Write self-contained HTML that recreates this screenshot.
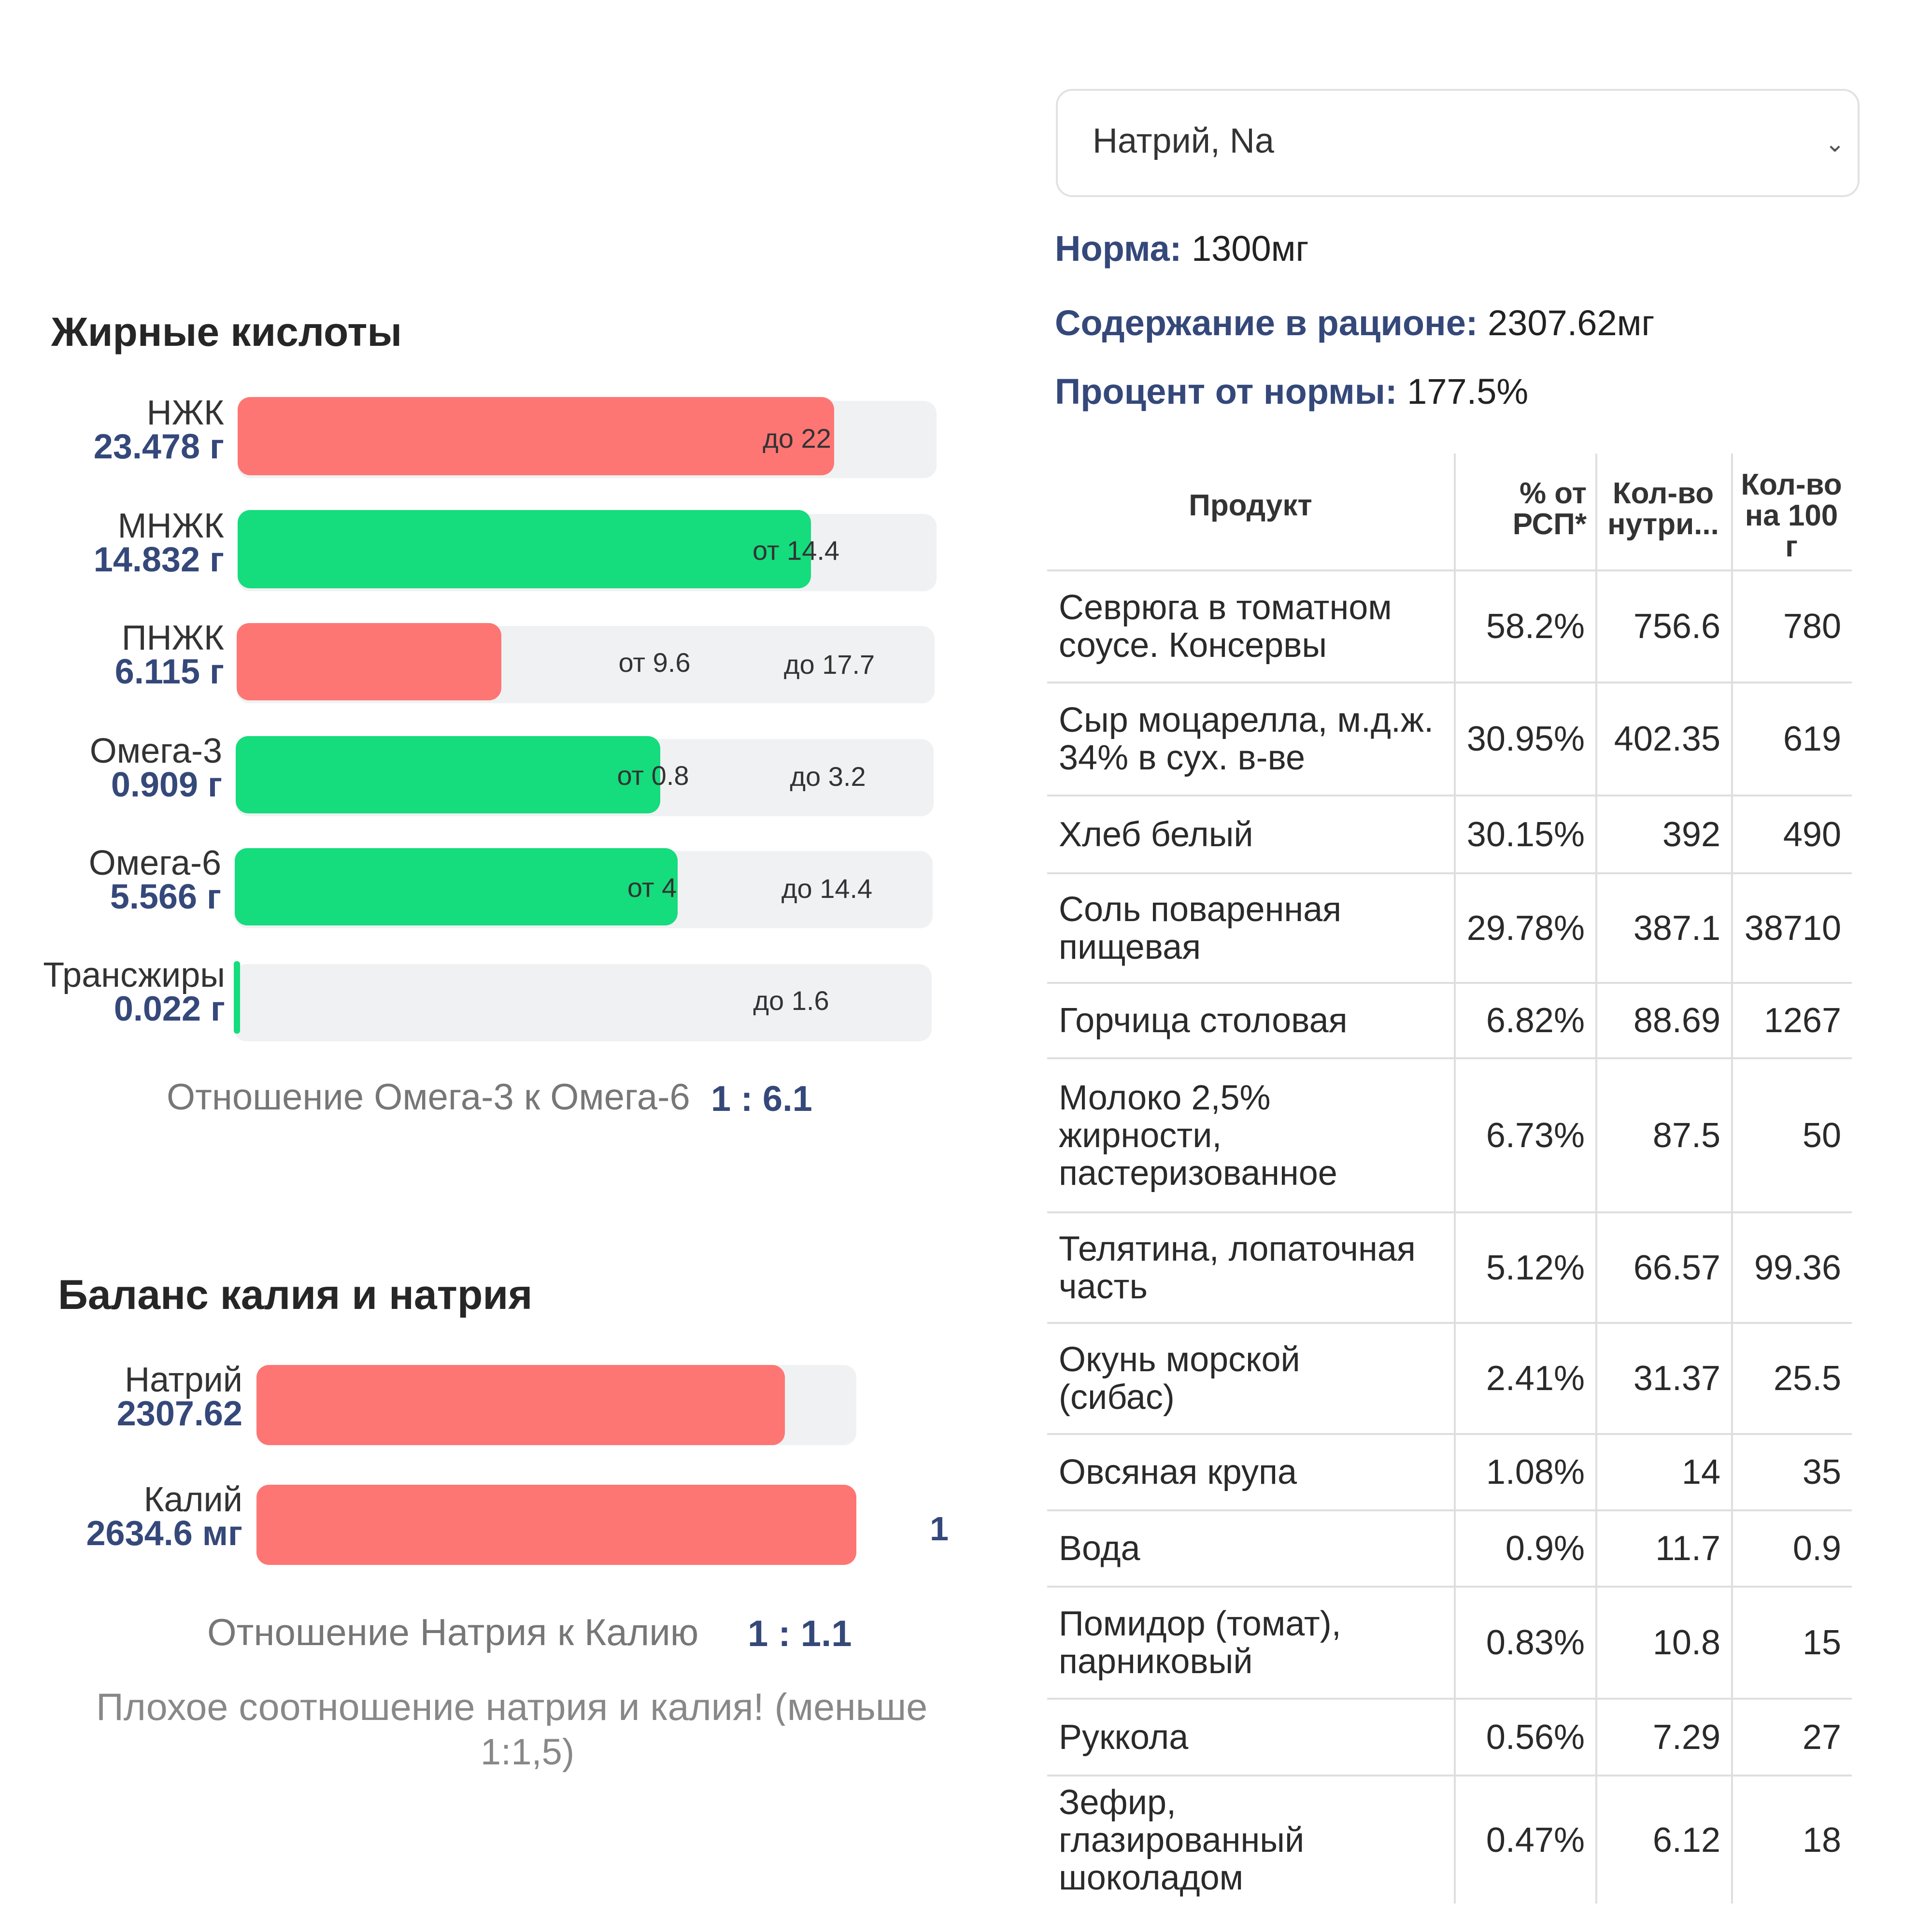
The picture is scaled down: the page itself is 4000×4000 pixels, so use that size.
<!DOCTYPE html>
<html><head><meta charset="utf-8">
<style>
*{margin:0;padding:0;box-sizing:border-box}
body{width:4000px;height:4000px;background:#fff;position:relative;overflow:hidden;font-family:"Liberation Sans","DejaVu Sans",sans-serif;color:#222}
.t{position:absolute;white-space:nowrap;line-height:1}
.lab{position:absolute;text-align:right;font-size:72px;line-height:70px;color:#333}
.lab b{display:block;color:#35487a;font-weight:bold}
.track{position:absolute;background:#f0f1f3;border-radius:26px}
.fill{position:absolute;border-radius:26px}
.red{background:#fd7674}.green{background:#15dc7c}
.mk{position:absolute;font-size:56px;color:#333;transform:translateX(-50%);white-space:nowrap;line-height:1}
.row{position:absolute;left:2168px;width:1666px;display:grid;grid-template-columns:842px 293px 281px 250px;border-top:4px solid #dedede}
.row div{display:flex;align-items:center;font-size:72px;line-height:78px;color:#2a2a2a}
.row .n{padding-left:24px}
.row .r{justify-content:flex-end;padding-right:22px;text-align:right}
.vl{position:absolute;top:939px;height:3002px;width:4px;background:#dedede}
</style></head><body>

<div class="t" style="left:106px;top:645px;font-size:84px;font-weight:bold;color:#262626">Жирные кислоты</div>

<div class="lab" style="left:0;width:464px;top:820px">НЖК<b>23.478 г</b></div>
<div class="track" style="left:492px;top:830px;width:1447px;height:160px"></div>
<div class="fill red" style="left:492px;top:822px;width:1235px;height:162px"></div>
<div class="mk" style="left:1650px;top:880px">до 22</div>

<div class="lab" style="left:0;width:464px;top:1054px">МНЖК<b>14.832 г</b></div>
<div class="track" style="left:492px;top:1064px;width:1447px;height:160px"></div>
<div class="fill green" style="left:492px;top:1056px;width:1187px;height:162px"></div>
<div class="mk" style="left:1648px;top:1112px">от 14.4</div>

<div class="lab" style="left:0;width:464px;top:1286px">ПНЖК<b>6.115 г</b></div>
<div class="track" style="left:490px;top:1296px;width:1445px;height:160px"></div>
<div class="fill red" style="left:490px;top:1290px;width:548px;height:160px"></div>
<div class="mk" style="left:1355px;top:1344px">от 9.6</div>
<div class="mk" style="left:1717px;top:1348px">до 17.7</div>

<div class="lab" style="left:0;width:460px;top:1520px">Омега-3<b>0.909 г</b></div>
<div class="track" style="left:488px;top:1530px;width:1445px;height:160px"></div>
<div class="fill green" style="left:488px;top:1524px;width:879px;height:160px"></div>
<div class="mk" style="left:1352px;top:1578px">от 0.8</div>
<div class="mk" style="left:1714px;top:1580px">до 3.2</div>

<div class="lab" style="left:0;width:458px;top:1752px">Омега-6<b>5.566 г</b></div>
<div class="track" style="left:486px;top:1762px;width:1445px;height:160px"></div>
<div class="fill green" style="left:486px;top:1756px;width:917px;height:160px"></div>
<div class="mk" style="left:1350px;top:1810px">от 4</div>
<div class="mk" style="left:1712px;top:1812px">до 14.4</div>

<div class="lab" style="left:0;width:466px;top:1984px">Трансжиры<b>0.022 г</b></div>
<div class="track" style="left:484px;top:1996px;width:1445px;height:160px"></div>
<div class="fill green" style="left:484px;top:1990px;width:13px;height:150px;border-radius:6px"></div>
<div class="mk" style="left:1638px;top:2044px">до 1.6</div>

<div class="t" style="left:345px;top:2234px;font-size:76px;color:#777">Отношение Омега-3 к Омега-6</div>
<div class="t" style="left:1472px;top:2238px;font-size:74px;font-weight:bold;color:#35487a">1 : 6.1</div>

<div class="t" style="left:120px;top:2638px;font-size:86px;font-weight:bold;color:#262626">Баланс калия и натрия</div>
<div class="lab" style="left:0;width:502px;top:2822px">Натрий<b>2307.62</b></div>
<div class="track" style="left:531px;top:2826px;width:1242px;height:166px"></div>
<div class="fill red" style="left:531px;top:2826px;width:1094px;height:166px"></div>
<div class="lab" style="left:0;width:502px;top:3070px">Калий<b>2634.6 мг</b></div>
<div class="fill red" style="left:531px;top:3074px;width:1242px;height:166px"></div>
<div class="t" style="left:1925px;top:3130px;font-size:70px;font-weight:bold;color:#35487a;width:47px;overflow:hidden">1</div>

<div class="t" style="left:429px;top:3340px;font-size:78px;color:#777">Отношение Натрия к Калию</div>
<div class="t" style="left:1548px;top:3345px;font-size:76px;font-weight:bold;color:#35487a">1 : 1.1</div>
<div class="t" style="left:199px;top:3494px;font-size:79px;color:#888;width:1773px;overflow:hidden">Плохое соотношение натрия и калия! (меньше</div>
<div class="t" style="left:0;width:2184px;text-align:center;top:3590px;font-size:76px;color:#888">1:1,5)</div>

<div style="position:absolute;left:2186px;top:184px;width:1664px;height:224px;border:4px solid #e2e2e2;border-radius:34px"></div>
<div class="t" style="left:2262px;top:256px;font-size:72px;color:#333">Натрий, Na</div>
<div class="t" style="left:3778px;top:272px;font-size:50px;color:#555">&#8964;</div>

<div class="t" style="left:2184px;top:478px;font-size:74px;color:#222"><b style="color:#35487a">Норма:</b> 1300мг</div>
<div class="t" style="left:2184px;top:632px;font-size:74px;color:#222"><b style="color:#35487a">Содержание в рационе:</b> 2307.62мг</div>
<div class="t" style="left:2184px;top:774px;font-size:74px;color:#222"><b style="color:#35487a">Процент от нормы:</b> 177.5%</div>

<div class="vl" style="left:3010px"></div>
<div class="vl" style="left:3303px"></div>
<div class="vl" style="left:3584px"></div>

<div class="t" style="left:2168px;width:842px;text-align:center;top:1016px;font-size:62px;font-weight:bold;color:#333">Продукт</div>
<div class="t" style="left:3010px;width:275px;text-align:right;top:990px;font-size:62px;font-weight:bold;color:#333;line-height:64px">% от<br>РСП*</div>
<div class="t" style="left:3303px;width:281px;text-align:center;top:990px;font-size:62px;font-weight:bold;color:#333;line-height:64px">Кол-во<br>нутри...</div>
<div class="t" style="left:3584px;width:250px;text-align:center;top:972px;font-size:62px;font-weight:bold;color:#333;line-height:64px">Кол-во<br>на 100<br>г</div>

<div class="row" style="top:1179px;height:232px"><div class="n">Севрюга в томатном<br>соусе. Консервы</div><div class="r">58.2%</div><div class="r">756.6</div><div class="r">780</div></div>
<div class="row" style="top:1411px;height:234px"><div class="n">Сыр моцарелла, м.д.ж.<br>34% в сух. в-ве</div><div class="r">30.95%</div><div class="r">402.35</div><div class="r">619</div></div>
<div class="row" style="top:1645px;height:161px"><div class="n">Хлеб белый</div><div class="r">30.15%</div><div class="r">392</div><div class="r">490</div></div>
<div class="row" style="top:1806px;height:227px"><div class="n">Соль поваренная<br>пищевая</div><div class="r">29.78%</div><div class="r">387.1</div><div class="r">38710</div></div>
<div class="row" style="top:2033px;height:156px"><div class="n">Горчица столовая</div><div class="r">6.82%</div><div class="r">88.69</div><div class="r">1267</div></div>
<div class="row" style="top:2189px;height:319px"><div class="n">Молоко 2,5%<br>жирности,<br>пастеризованное</div><div class="r">6.73%</div><div class="r">87.5</div><div class="r">50</div></div>
<div class="row" style="top:2508px;height:229px"><div class="n">Телятина, лопаточная<br>часть</div><div class="r">5.12%</div><div class="r">66.57</div><div class="r">99.36</div></div>
<div class="row" style="top:2737px;height:230px"><div class="n">Окунь морской<br>(сибас)</div><div class="r">2.41%</div><div class="r">31.37</div><div class="r">25.5</div></div>
<div class="row" style="top:2967px;height:158px"><div class="n">Овсяная крупа</div><div class="r">1.08%</div><div class="r">14</div><div class="r">35</div></div>
<div class="row" style="top:3125px;height:158px"><div class="n">Вода</div><div class="r">0.9%</div><div class="r">11.7</div><div class="r">0.9</div></div>
<div class="row" style="top:3283px;height:232px"><div class="n">Помидор (томат),<br>парниковый</div><div class="r">0.83%</div><div class="r">10.8</div><div class="r">15</div></div>
<div class="row" style="top:3515px;height:159px"><div class="n">Руккола</div><div class="r">0.56%</div><div class="r">7.29</div><div class="r">27</div></div>
<div class="row" style="top:3674px;height:267px"><div class="n">Зефир,<br>глазированный<br>шоколадом</div><div class="r">0.47%</div><div class="r">6.12</div><div class="r">18</div></div>

</body></html>
